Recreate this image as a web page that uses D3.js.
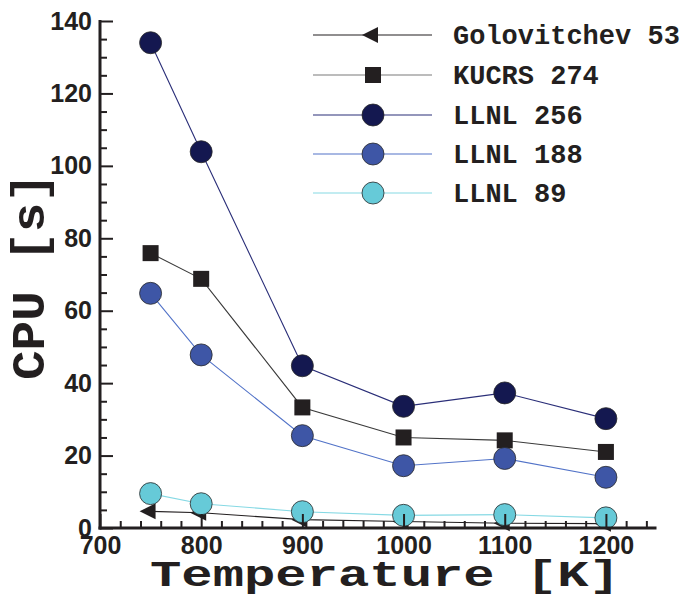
<!DOCTYPE html>
<html>
<head>
<meta charset="utf-8">
<script src="https://cdn.jsdelivr.net/npm/d3@7"></script>
<style>
  html, body { margin: 0; padding: 0; background: #fff; }
  svg { display: block; }
  .tick text { font-family: "Liberation Sans", Arial, Helvetica, sans-serif; font-weight: bold; font-size: 25px; fill: #231f20; }
  .mono { font-family: "Courier New", "Liberation Mono", monospace; font-weight: bold; fill: #231f20; }
</style>
</head>
<body>
<svg id="chart" width="683" height="598"></svg>
<script>
// ---- data ----
const temperatures = [750, 800, 900, 1000, 1100, 1200];
const golovitchev53 = [4.6, 4.2, 2.3, 1.8, 1.3, 1.2];
const kucrs274 = [75.9, 68.8, 33.3, 25.0, 24.2, 21.0];
const llnl256 = [134.0, 103.9, 44.8, 33.6, 37.3, 30.2];
const llnl188 = [64.8, 47.8, 25.5, 17.2, 19.2, 14.0];
const llnl89 = [9.5, 6.7, 4.5, 3.5, 3.7, 2.8];
const seriesNames = ["Golovitchev 53", "KUCRS 274", "LLNL 256", "LLNL 188", "LLNL 89"];
const xMajorTicks = [700, 800, 900, 1000, 1100, 1200];
const yMajorTicks = [0, 20, 40, 60, 80, 100, 120, 140];
const xTitle = "Temperature [K]";
const yTitle = "CPU [s]";

const series = [
  { name: seriesNames[0], values: golovitchev53, shape: "triangle", fill: "#231f20", line: "#231f20", legendLine: "#231f20" },
  { name: seriesNames[1], values: kucrs274, shape: "square", fill: "#231f20", line: "#3a3a3a", legendLine: "#7a7a7a" },
  { name: seriesNames[2], values: llnl256, shape: "circle", fill: "#141850", line: "#2a2e78", legendLine: "#2a2e78" },
  { name: seriesNames[3], values: llnl188, shape: "circle", fill: "#3e56a6", line: "#5273c8", legendLine: "#5273c8" },
  { name: seriesNames[4], values: llnl89, shape: "circle", fill: "#66cad8", line: "#86d9e4", legendLine: "#86d9e4" }
];

const svg = d3.select("#chart");
const x = d3.scaleLinear().domain([700, 1250]).range([100, 656.5]);
const y = d3.scaleLinear().domain([0, 140]).range([528, 21]);

function drawMarker(g, shape, fill) {
  if (shape === "circle") {
    g.append("circle").attr("r", 11).attr("fill", fill).attr("stroke", "#2a2a2a").attr("stroke-width", 0.8);
  } else if (shape === "square") {
    g.append("rect").attr("x", -8).attr("y", -8).attr("width", 16).attr("height", 16).attr("fill", fill);
  } else {
    g.append("path").attr("d", "M-11,0 L5,-8 L5,8 Z").attr("fill", fill);
  }
}

// ---- series ----
const plot = svg.append("g");
const line = d3.line().x(d => x(d[0])).y(d => y(d[1]));
series.forEach(s => {
  const pts = temperatures.map((t, i) => [t, s.values[i]]);
  const g = plot.append("g");
  g.append("path").attr("d", line(pts)).attr("fill", "none").attr("stroke", s.line).attr("stroke-width", 1.1);
  pts.forEach(p => {
    const m = g.append("g").attr("transform", `translate(${x(p[0])},${y(p[1])})`);
    drawMarker(m, s.shape, s.fill);
  });
});

// ---- axes ----
const xMinor = d3.range(700, 1251, 20).filter(v => v % 100 !== 0);
const yMinor = d3.range(0, 141, 5).filter(v => v % 20 !== 0);

const xAxisG = svg.append("g").attr("transform", "translate(0,528)");
xAxisG.append("g").call(d3.axisBottom(x).tickValues(xMinor).tickSize(-7).tickSizeOuter(0).tickFormat(""))
  .call(g => g.select(".domain").remove());
xAxisG.append("g").call(d3.axisBottom(x).tickValues(xMajorTicks).tickSize(-14).tickSizeOuter(0).tickPadding(8).tickFormat(d3.format("d")))
  .call(g => g.select(".domain").remove());
xAxisG.selectAll(".tick line").attr("stroke", "#231f20").attr("stroke-width", 2);

const yAxisG = svg.append("g").attr("transform", "translate(100,0)");
yAxisG.append("g").call(d3.axisLeft(y).tickValues(yMinor).tickSize(-7).tickSizeOuter(0).tickFormat(""))
  .call(g => g.select(".domain").remove());
yAxisG.append("g").call(d3.axisLeft(y).tickValues(yMajorTicks).tickSize(-13).tickSizeOuter(0).tickPadding(8).tickFormat(d3.format("d")))
  .call(g => g.select(".domain").remove());
yAxisG.selectAll(".tick line").attr("stroke", "#231f20").attr("stroke-width", 2);

// axis lines
svg.append("line").attr("x1", x(700) - 1.5).attr("x2", x(1250)).attr("y1", y(0)).attr("y2", y(0))
  .attr("stroke", "#231f20").attr("stroke-width", 3);
svg.append("line").attr("x1", x(700)).attr("x2", x(700)).attr("y1", y(0) + 1.5).attr("y2", y(140) - 1)
  .attr("stroke", "#231f20").attr("stroke-width", 3);

// ---- titles ----
svg.append("text").attr("class", "mono").attr("x", 385).attr("y", 585.5)
  .attr("text-anchor", "middle").attr("font-size", 36)
  .attr("textLength", 470).attr("lengthAdjust", "spacingAndGlyphs").text(xTitle);
svg.append("text").attr("class", "mono").attr("transform", "translate(44,276.5) rotate(-90)")
  .attr("text-anchor", "middle").attr("font-size", 47)
  .attr("textLength", 207).attr("lengthAdjust", "spacingAndGlyphs").text(yTitle);

// ---- legend ----
const legend = svg.append("g");
const rowY = [35, 75, 115, 154, 193];
series.forEach((s, i) => {
  const g = legend.append("g").attr("transform", `translate(0,${rowY[i]})`);
  g.append("line").attr("x1", 313).attr("x2", 432).attr("y1", 0).attr("y2", 0)
    .attr("stroke", s.legendLine).attr("stroke-width", 1.1);
  const m = g.append("g").attr("transform", "translate(373,0)");
  drawMarker(m, s.shape, s.fill);
  g.append("text").attr("class", "mono").attr("x", 453).attr("y", 8.5).attr("font-size", 27).text(s.name);
});
</script>
</body>
</html>
